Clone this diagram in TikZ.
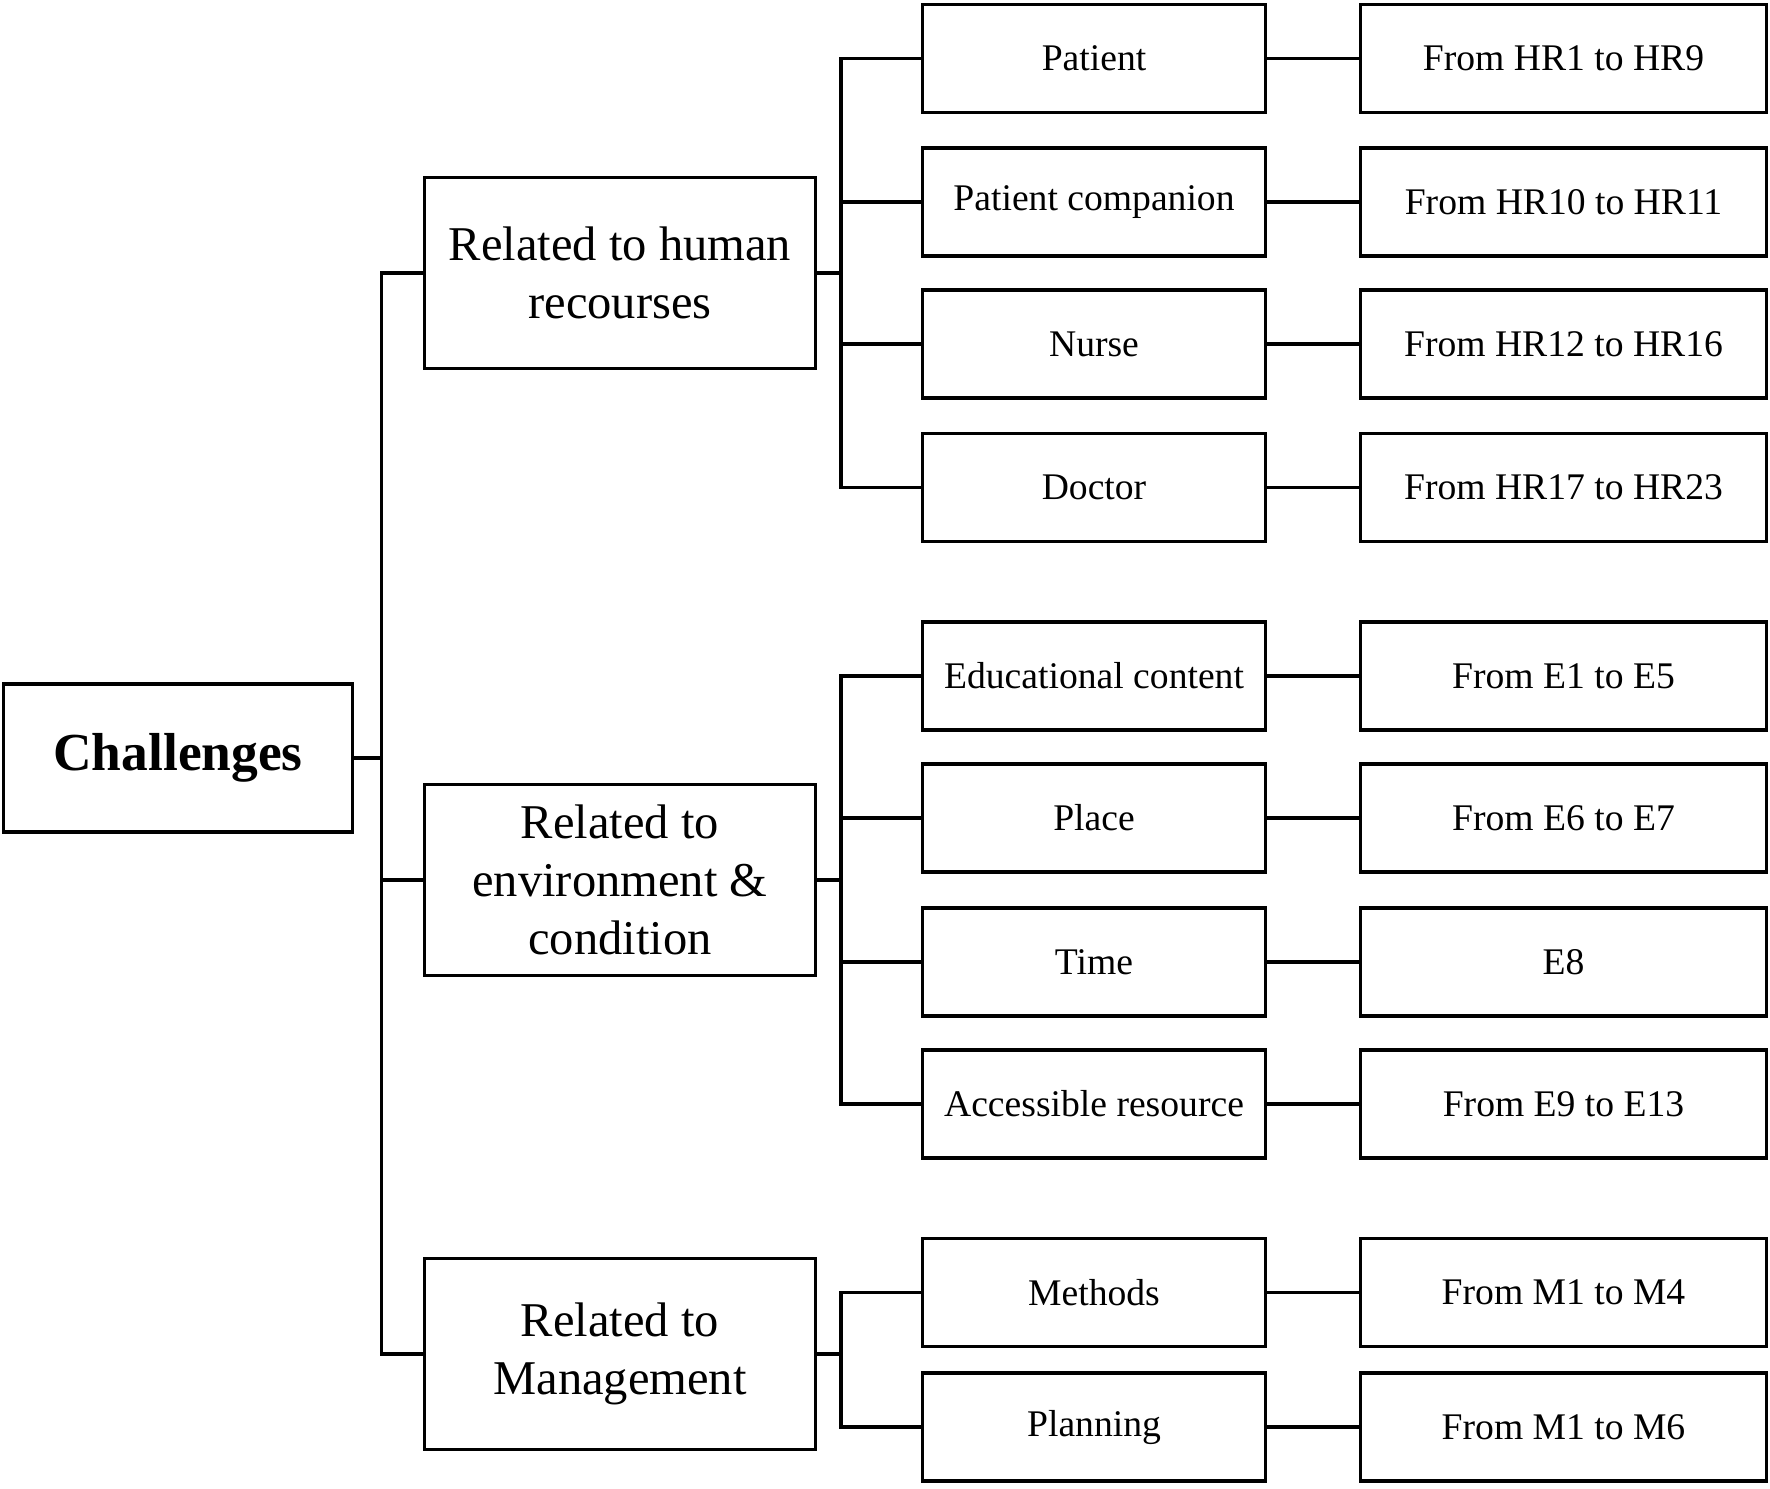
\documentclass[tikz,border=0pt]{standalone}
\usepackage{fontspec}
\setmainfont{Liberation Serif}
\begin{document}
\begin{tikzpicture}[x=0.01cm,y=-0.01cm,
  every node/.style={draw=black, line width=0.9pt, rectangle, inner sep=0pt, align=center},
  rootbox/.style={minimum width=3.48cm, minimum height=1.48cm, font=\fontsize{15.2}{18}\selectfont\bfseries},
  catbox/.style={minimum width=3.90cm, minimum height=1.91cm, font=\fontsize{13.8}{16.4}\selectfont},
  subbox/.style={minimum width=3.42cm, minimum height=1.08cm, font=\fontsize{10.7}{13}\selectfont},
  codebox/.style={minimum width=4.05cm, minimum height=1.08cm, font=\fontsize{10.7}{13}\selectfont},
  conn/.style={line width=0.9pt}]
\useasboundingbox (0,0) rectangle (1770,1488);

\node[rootbox] (ch) at (178,758) {Challenges};

\node[catbox] (hr)  at (620,273)  {Related to human\\recourses};
\node[catbox] (env) at (620,880)  {Related to\\environment \&\\condition};
\node[catbox] (mg)  at (620,1354) {Related to\\Management};

\node[subbox] (s1)  at (1094,58.7)  {Patient};
\node[subbox] (s2)  at (1094,202)   {Patient companion};
\node[subbox] (s3)  at (1094,344)   {Nurse};
\node[subbox] (s4)  at (1094,487.6) {Doctor};
\node[subbox] (s5)  at (1094,676)   {Educational content};
\node[subbox] (s6)  at (1094,818)   {Place};
\node[subbox] (s7)  at (1094,962)   {Time};
\node[subbox] (s8)  at (1094,1104)  {Accessible resource};
\node[subbox] (s9)  at (1094,1292.5){Methods};
\node[subbox] (s10) at (1094,1427)  {Planning};

\node[codebox] (c1)  at (1563.5,58.7)  {From HR1 to HR9};
\node[codebox] (c2)  at (1563.5,202)   {From HR10 to HR11};
\node[codebox] (c3)  at (1563.5,344)   {From HR12 to HR16};
\node[codebox] (c4)  at (1563.5,487.6) {From HR17 to HR23};
\node[codebox] (c5)  at (1563.5,676)   {From E1 to E5};
\node[codebox] (c6)  at (1563.5,818)   {From E6 to E7};
\node[codebox] (c7)  at (1563.5,962)   {E8};
\node[codebox] (c8)  at (1563.5,1104)  {From E9 to E13};
\node[codebox] (c9)  at (1563.5,1292.5){From M1 to M4};
\node[codebox] (c10) at (1563.5,1427)  {From M1 to M6};

\coordinate (tk) at (381.5,0);
\coordinate (st) at (841,0);

% main trunk
\draw[conn] (ch.east) -- (ch.east -| tk);
\draw[conn] (hr.west) -- (hr.west -| tk) -- (mg.west -| tk) -- (mg.west);
\draw[conn] (env.west) -- (env.west -| tk);

% human resources group
\draw[conn] (hr.east) -- (hr.east -| st);
\draw[conn] (s1.west) -- (s1.west -| st) -- (s4.west -| st) -- (s4.west);
\draw[conn] (s2.west) -- (s2.west -| st);
\draw[conn] (s3.west) -- (s3.west -| st);

% environment group
\draw[conn] (env.east) -- (env.east -| st);
\draw[conn] (s5.west) -- (s5.west -| st) -- (s8.west -| st) -- (s8.west);
\draw[conn] (s6.west) -- (s6.west -| st);
\draw[conn] (s7.west) -- (s7.west -| st);

% management group
\draw[conn] (mg.east) -- (mg.east -| st);
\draw[conn] (s9.west) -- (s9.west -| st) -- (s10.west -| st) -- (s10.west);

% leaves
\foreach \i in {1,...,10} {
  \draw[conn] (s\i.east) -- (c\i.west);
}
\end{tikzpicture}
\end{document}
